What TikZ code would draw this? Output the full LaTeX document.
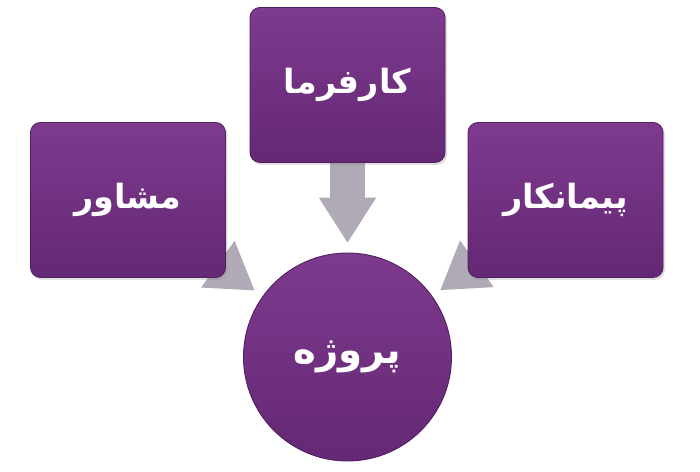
\documentclass[tikz,border=0pt]{standalone}
\usepackage{fontspec}
\newfontfamily\arabicfont[Script=Arabic]{DejaVu Sans}
\TeXXeTstate=1
\usetikzlibrary{arrows.meta}
\usetikzlibrary{backgrounds}
\usetikzlibrary{shadows}

\definecolor{boxtop}{RGB}{126,58,142}
\definecolor{boxbottom}{RGB}{100,40,116}
\definecolor{boxedge}{RGB}{82,30,96}
\definecolor{arrowgray}{RGB}{176,170,182}

\tikzset{
  rolebox/.style={draw=boxedge, line width=0.5pt, rounded corners=0.2cm,
    top color=boxtop, bottom color=boxbottom,
    minimum width=3.9cm, minimum height=3.1cm,
    text=white, font=\arabicfont\bfseries\fontsize{19}{23}\selectfont,
    drop shadow={opacity=0.25, shadow xshift=0.04cm, shadow yshift=-0.05cm}},
  hubcircle/.style={circle, draw=boxedge, line width=0.5pt,
    top color=boxtop, bottom color=boxbottom, minimum size=4.16cm,
    text=white, font=\arabicfont\bfseries\fontsize{22}{26}\selectfont},
  bigarrow/.style={line width=0.7cm, arrowgray,
    -{Triangle[width=1.15cm, length=0.9cm, line width=0pt]}, shorten >=0.2cm},
}

\begin{document}
\begin{tikzpicture}
      \useasboundingbox (0, 0) rectangle (14, 9.44);

      \coordinate (employer) at (6.95, 7.74);
      \coordinate (consultant) at (2.56, 5.44);
      \coordinate (contractor) at (11.31, 5.44);
      \coordinate (center) at (6.95, 2.30);

      \node[rolebox] (kf) at (employer) {\beginR کارفرما\endR};
      \node[rolebox] (ms) at (consultant) {\beginR مشاور\endR};
      \node[rolebox] (pk) at (contractor) {\beginR پیمانکار\endR};
      \node[hubcircle] (pr) at (center) {\beginR پروژه\endR};

      % arrows sit behind the boxes
      \begin{scope}[on background layer]
        \draw[bigarrow] (kf) -- (pr);
        \draw[bigarrow] (ms) -- (pr);
        \draw[bigarrow] (pk) -- (pr);
      \end{scope}
    \end{tikzpicture}
\end{document}
